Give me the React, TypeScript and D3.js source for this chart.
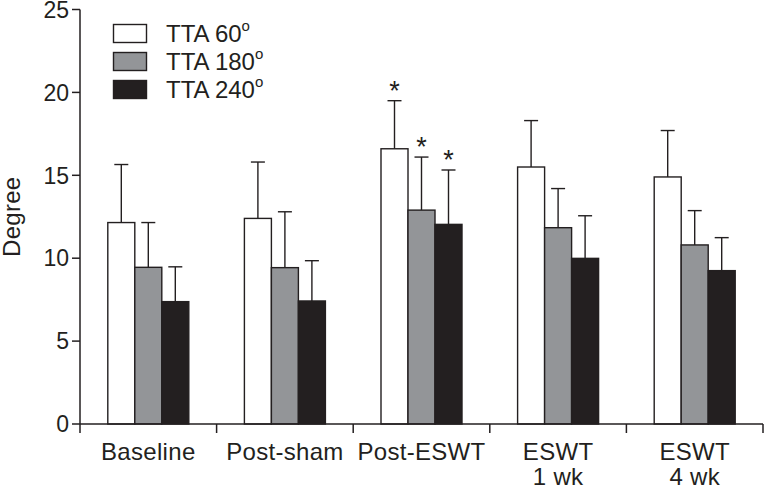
import React from "react";
import * as d3 from "d3";

const categories = ["Baseline", "Post-sham", "Post-ESWT", "ESWT\n1 wk", "ESWT\n4 wk"];
const seriesNames = ["TTA 60", "TTA 180", "TTA 240"];
const tta60 = [12.15, 12.4, 16.6, 15.5, 14.9];
const tta60Err = [3.5, 3.4, 2.9, 2.8, 2.8];
const tta180 = [9.45, 9.43, 12.9, 11.84, 10.8];
const tta180Err = [2.7, 3.37, 3.2, 2.36, 2.07];
const tta240 = [7.38, 7.42, 12.04, 9.99, 9.25];
const tta240Err = [2.1, 2.43, 3.28, 2.57, 1.99];
const significant = [
  [false, false, true, false, false],
  [false, false, true, false, false],
  [false, false, true, false, false],
];
const yTicks = [0, 5, 10, 15, 20, 25];

const values = [tta60, tta180, tta240];
const errors = [tta60Err, tta180Err, tta240Err];
const fills = ["#ffffff", "#939598", "#231f20"];
const ink = "#231f20";
const font = "'Liberation Sans', Arial, Helvetica, sans-serif";

export default function App() {
  const W = 764, H = 489;
  const left = 80, right = 763, top = 9.5, bottom = 424;
  const y = d3.scaleLinear().domain([0, 25]).range([bottom, top]);
  const x0 = d3.scaleBand<string>().domain(categories).range([left, right]).padding(0);
  const groupW = 81;
  const x1 = d3.scaleBand<string>().domain(seriesNames).range([0, groupW]).padding(0);
  const off = (x0.bandwidth() - groupW) / 2;
  const bw = x1.bandwidth();
  const capW = 14;

  return (
    <svg width={W} height={H} style={{ position: "absolute", left: 0, top: 0, background: "#fff" }}>
      {categories.map((c, ci) =>
        seriesNames.map((s, si) => {
          const v = values[si][ci];
          const e = errors[si][ci];
          const bx = (x0(c) as number) + off + (x1(s) as number);
          const cx = bx + bw / 2;
          return (
            <g key={c + s}>
              <line x1={cx} x2={cx} y1={y(v)} y2={y(v + e)} stroke={ink} strokeWidth={1.4} />
              <line x1={cx - capW / 2} x2={cx + capW / 2} y1={y(v + e)} y2={y(v + e)} stroke={ink} strokeWidth={1.4} />
              <rect x={bx} y={y(v)} width={bw} height={y(0) - y(v)} fill={fills[si]} stroke={ink} strokeWidth={1.4} />
              {significant[si][ci] && (
                <text x={cx} y={y(v + e) - 1} textAnchor="middle" fontFamily={font} fontSize={27} fill={ink}>*</text>
              )}
            </g>
          );
        })
      )}
      <line x1={left} x2={left} y1={top} y2={bottom} stroke={ink} strokeWidth={1.5} />
      {yTicks.map((t) => (
        <g key={t}>
          <line x1={left - 8} x2={left} y1={y(t)} y2={y(t)} stroke={ink} strokeWidth={1.5} />
          <text x={left - 11} y={y(t)} dy="0.36em" textAnchor="end" fontFamily={font} fontSize={23} fill={ink}>{t}</text>
        </g>
      ))}
      <text transform={`translate(20,${(top + bottom) / 2}) rotate(-90)`} textAnchor="middle" fontFamily={font} fontSize={24} letterSpacing={0.3} fill={ink}>Degree</text>
      <line x1={left} x2={right} y1={bottom} y2={bottom} stroke={ink} strokeWidth={1.5} />
      {d3.range(categories.length + 1).map((i) => {
        const xx = left + i * x0.step();
        return <line key={i} x1={xx} x2={xx} y1={bottom} y2={bottom + 9} stroke={ink} strokeWidth={1.5} />;
      })}
      {categories.map((c) => {
        const lines = c.split("\n");
        const cx = (x0(c) as number) + x0.bandwidth() / 2;
        return (
          <text key={c} x={cx} y={460} textAnchor="middle" fontFamily={font} fontSize={24} letterSpacing={0.3} fill={ink}>
            {lines.map((l, i) => (
              <tspan key={i} x={cx} dy={i === 0 ? 0 : 25}>{l}</tspan>
            ))}
          </text>
        );
      })}
      {seriesNames.map((s, i) => (
        <g key={s}>
          <rect x={113.5} y={24.5 + i * 28} width={33} height={18} fill={fills[i]} stroke={ink} strokeWidth={1.4} />
          <text x={166} y={42 + i * 28} fontFamily={font} fontSize={24} fill={ink}>
            {s}
            <tspan fontSize={15} dy={-11}>o</tspan>
          </text>
        </g>
      ))}
    </svg>
  );
}
